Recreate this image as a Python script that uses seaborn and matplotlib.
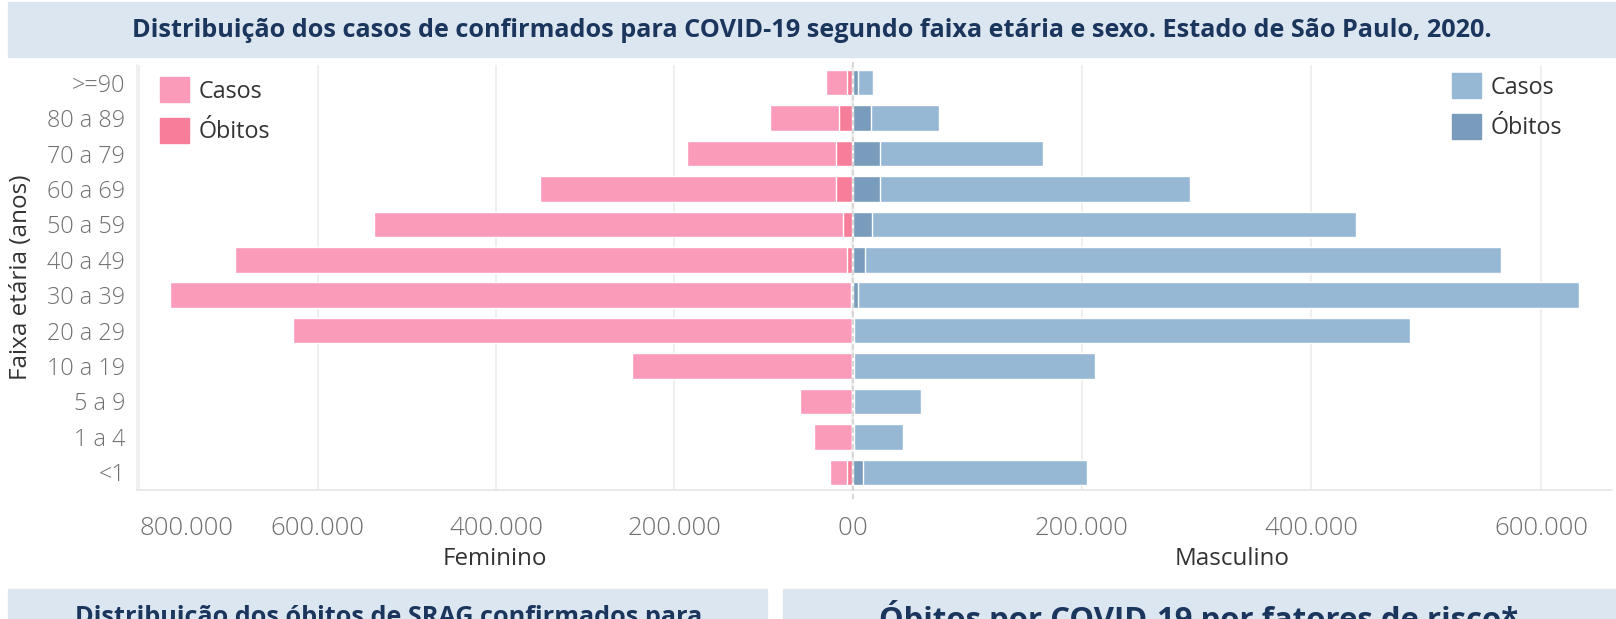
import matplotlib
matplotlib.use('Agg')
import matplotlib.pyplot as plt
import seaborn as sns
import pandas as pd
from matplotlib.patches import Patch, Rectangle
from matplotlib.lines import Line2D
from matplotlib.ticker import FuncFormatter

# Dados
faixas = ['>=90', '80 a 89', '70 a 79', '60 a 69', '50 a 59', '40 a 49',
          '30 a 39', '20 a 29', '10 a 19', '5 a 9', '1 a 4', '<1']
casos_fem = [29500, 92500, 186000, 350500, 536500, 692500,
             765500, 628000, 247500, 59000, 43000, 25000]
obitos_fem = [6700, 15700, 18000, 18000, 11200, 6700,
              2200, 500, 200, 100, 100, 6700]
casos_masc = [18000, 75500, 166000, 294500, 439000, 565000,
              633000, 486000, 211000, 59500, 44000, 204000]
obitos_masc = [5200, 15700, 24400, 24400, 17400, 10500,
               5200, 1700, 1700, 1700, 1700, 9200]

titulo = 'Distribuição dos casos de confirmados para COVID-19 segundo faixa etária e sexo. Estado de São Paulo, 2020.'
titulo_esq = 'Distribuição dos óbitos de SRAG confirmados para'
titulo_dir = 'Óbitos por COVID-19 por fatores de risco*'

ROSA_CASOS = '#fa9bba'
ROSA_OBITOS = '#f77e9a'
AZUL_CASOS = '#96b8d5'
AZUL_OBITOS = '#799bbc'
BANNER = '#dce6f1'
NAVY = '#1b365d'
TICK = '#707070'
TEXTO = '#333333'

df = pd.DataFrame({'faixa': faixas, 'casos_fem': casos_fem, 'obitos_fem': obitos_fem,
                   'casos_masc': casos_masc, 'obitos_masc': obitos_masc})

sns.set_theme(style='white')
plt.rcParams['font.family'] = ['Open Sans', 'DejaVu Sans']

W, H = 1616, 619
fig = plt.figure(figsize=(W / 100, H / 100), dpi=100)


def fx(px):
    return px / W


def fy(py):
    return 1 - py / H


# Faixas de título (as de baixo são cortadas pela borda, como na imagem original)
fig.add_artist(Rectangle((fx(8), fy(57)), fx(W - 8), 55 / H, transform=fig.transFigure,
                         color=BANNER, zorder=0))
fig.text(fx(812), fy(37), titulo, ha='center', va='baseline', fontsize=18.2,
         fontweight='bold', color=NAVY)
fig.add_artist(Rectangle((fx(8), fy(640)), fx(767 - 8), 51 / H, transform=fig.transFigure,
                         color=BANNER, zorder=0))
fig.add_artist(Rectangle((fx(783), fy(640)), fx(W - 783), 51 / H, transform=fig.transFigure,
                         color=BANNER, zorder=0))
fig.text(fx(389), fy(624), titulo_esq, ha='center', va='baseline', fontsize=18.2,
         fontweight='bold', color=NAVY)
fig.text(fx(1199), fy(629), titulo_dir, ha='center', va='baseline', fontsize=22.4,
         fontweight='bold', color=NAVY)

# Eixos
top, bottom, zero = 65, 490, 852.5
axL = fig.add_axes([fx(137), fy(bottom), fx(zero - 137), (bottom - top) / H])
axR = fig.add_axes([fx(zero), fy(bottom), fx(1612 - zero), (bottom - top) / H])

sns.barplot(data=df, x='casos_fem', y='faixa', order=faixas, color=ROSA_CASOS,
            saturation=1, width=0.72, ax=axL)
sns.barplot(data=df, x='obitos_fem', y='faixa', order=faixas, color=ROSA_OBITOS,
            saturation=1, width=0.72, ax=axL)
sns.barplot(data=df, x='casos_masc', y='faixa', order=faixas, color=AZUL_CASOS,
            saturation=1, width=0.72, ax=axR)
sns.barplot(data=df, x='obitos_masc', y='faixa', order=faixas, color=AZUL_OBITOS,
            saturation=1, width=0.72, ax=axR)

axL.set_xlim(802600, 0)
axR.set_xlim(0, 662000)


def milhar(x, _):
    return f'{int(round(x)):,}'.replace(',', '.')


for ax in (axL, axR):
    ax.set_ylim(11.5, -0.5)
    ax.grid(axis='x', color='#ececec', lw=1.2)
    ax.set_axisbelow(True)
    for s in ('top', 'right', 'left'):
        ax.spines[s].set_visible(False)
    ax.spines['bottom'].set_color('#e6e6e6')
    ax.xaxis.set_major_formatter(FuncFormatter(milhar))
    ax.tick_params(axis='x', length=0, pad=19, labelsize=18.5, labelcolor=TICK)
    ax.set_ylabel('')

axL.set_xticks([0, 200000, 400000, 600000, 800000])
axR.set_xticks([0, 200000, 400000, 600000])
axL.spines['left'].set_visible(True)
axL.spines['left'].set_color('#eeeeee')

axL.tick_params(axis='y', length=0, pad=8.6, labelsize=16.8, labelcolor=TICK)
axR.tick_params(axis='y', length=0, labelleft=False)

for lbl in axL.get_xticklabels() + axL.get_yticklabels() + axR.get_xticklabels():
    lbl.set_fontweight('light')
for lbl in axL.get_xticklabels():
    if lbl.get_text() == '0':
        lbl.set_ha('right')
    elif lbl.get_text() == '800.000':
        lbl.set_ha('left')
for lbl in axR.get_xticklabels():
    if lbl.get_text() == '0':
        lbl.set_ha('left')

axL.set_xlabel('Feminino', fontsize=17.4, color=TEXTO, labelpad=4)
axR.set_xlabel('Masculino', fontsize=17.4, color=TEXTO, labelpad=4)
axL.set_ylabel('Faixa etária (anos)', fontsize=17.5, color=TEXTO)
axL.yaxis.set_label_coords((33 - 137) / (zero - 137), 0.5)

# Linha tracejada do zero
fig.add_artist(Line2D([fx(zero), fx(zero)], [fy(62), fy(500)], transform=fig.transFigure,
                      color='#d4d4d4', lw=1.3, dashes=(3, 1.6), zorder=5))

# Legendas
leg_kw = dict(frameon=False, fontsize=16.8, handlelength=1.25, handleheight=1.3,
              handletextpad=0.42, labelspacing=0.6, borderpad=0, borderaxespad=0,
              loc='upper left', bbox_transform=fig.transFigure, labelcolor=TEXTO)
axL.legend(handles=[Patch(color=ROSA_CASOS, label='Casos'), Patch(color=ROSA_OBITOS, label='Óbitos')],
           bbox_to_anchor=(fx(160), fy(77)), **leg_kw)
axR.legend(handles=[Patch(color=AZUL_CASOS, label='Casos'), Patch(color=AZUL_OBITOS, label='Óbitos')],
           bbox_to_anchor=(fx(1452), fy(73)), **leg_kw)

fig.savefig('out.png', dpi=100)
